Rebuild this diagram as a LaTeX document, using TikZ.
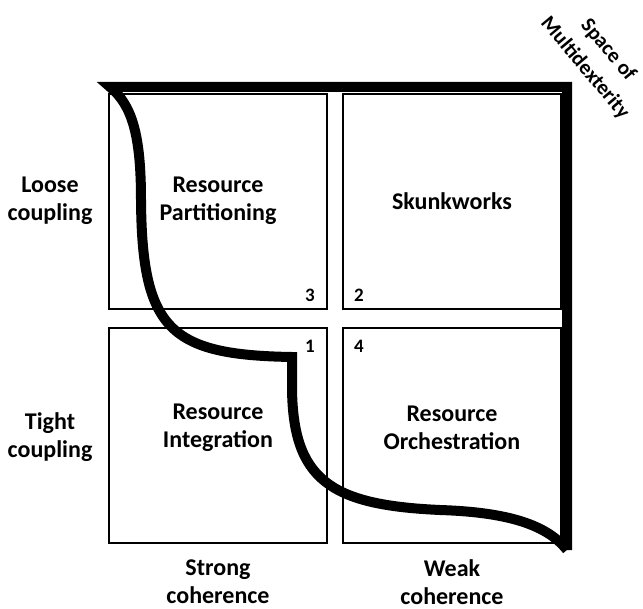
\documentclass[tikz,border=0pt]{standalone}
\usepackage{fontspec}
\setmainfont{Carlito}
\begin{document}
\begin{tikzpicture}[x = 1pt, y = -1pt,
    lbl/.style = {font = \bfseries\fontsize{24}{28}\selectfont, align = center},
    num/.style = {font = \bfseries\fontsize{19}{19}\selectfont},
    tilt/.style = {font = \bfseries\fontsize{21}{21}\selectfont, rotate = -50}]
    \useasboundingbox (0, 0) rectangle (643, 609);

    % the four quadrants
    \foreach \x / \y in {109/94, 343/94, 109/328, 343/328} {
      \draw [line width = 2pt] (\x, \y) rectangle ++(218, 215);
    }

    % frontier of the space
    \draw [line width = 10pt, line join = miter] (567, 550) -- (567, 87) -- (110, 87)
      .. controls (132, 105) and (141, 135) .. (141, 200)
      .. controls (142, 330) and (170, 355) .. (292, 357)
      -- (292, 385)
      .. controls (292, 480) and (330, 505) .. (440, 510)
      .. controls (500, 512) and (545, 522) .. (567, 550);

    \node [lbl] (part) at (218, 201) {Resource\\Partitioning};
    \node [lbl] (skunk) at (452, 201) {Skunkworks};
    \node [lbl] (integ) at (218, 428) {Resource\\Integration};
    \node [lbl] (orch) at (452, 428) {Resource\\Orchestration};

    \node [num] (n3) at (310, 295) {3};
    \node [num] (n2) at (359, 295) {2};
    \node [num] (n1) at (310, 346) {1};
    \node [num] (n4) at (359, 346) {4};

    \node [lbl] (loose) at (50, 201) {Loose\\coupling};
    \node [lbl] (tight) at (50, 437) {Tight\\coupling};
    \node [lbl] (strong) at (218, 582) {Strong\\coherence};
    \node [lbl] (weak) at (452, 582) {Weak\\coherence};
    \node [tilt] (space) at (608, 50) {Space of};
    \node [tilt] (multi) at (585, 68) {Multidexterity};
  \end{tikzpicture}
\end{document}
